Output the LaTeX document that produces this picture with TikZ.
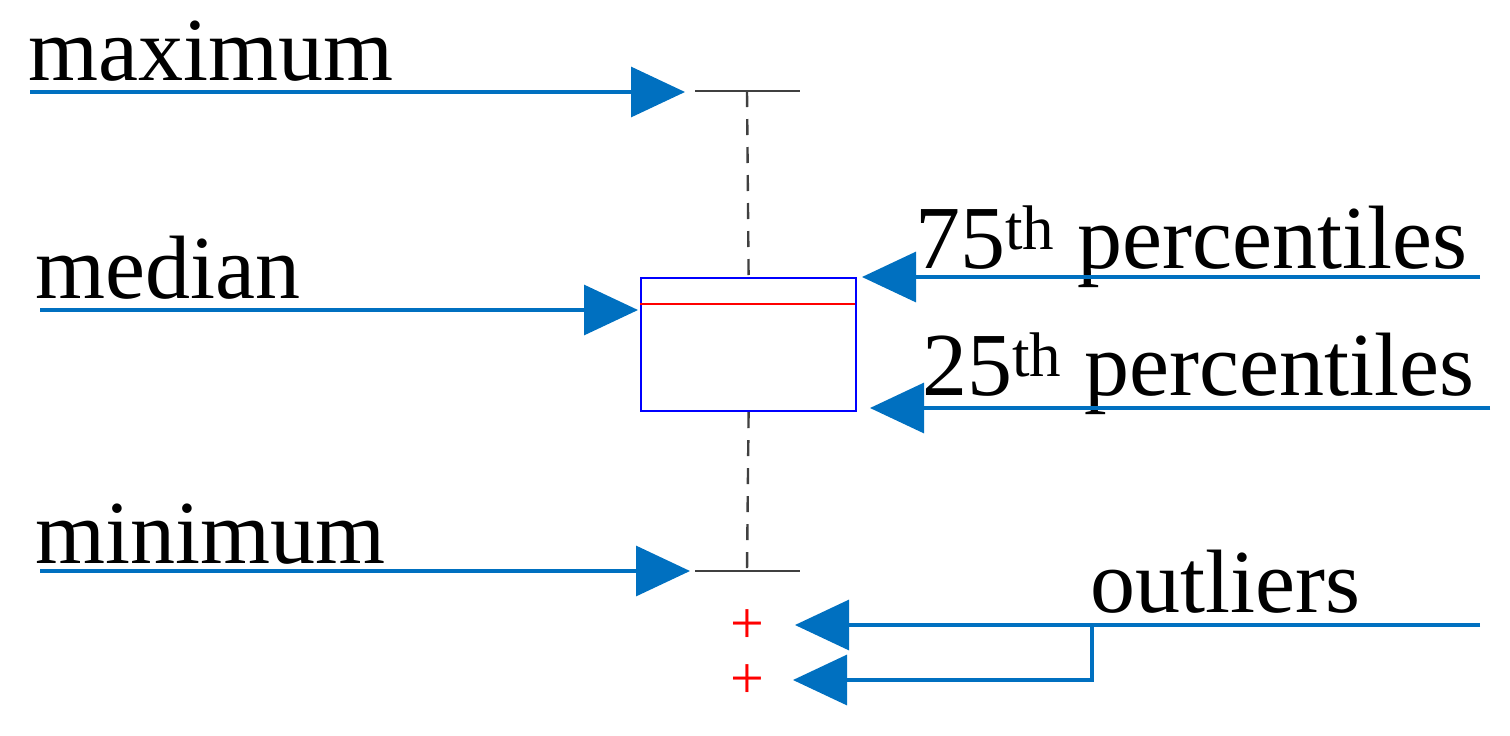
\documentclass[tikz,border=0pt]{standalone}
\usepackage{fontspec}
\setmainfont{Liberation Serif}
\usetikzlibrary{arrows.meta}
\definecolor{ab}{RGB}{0,112,192}
\begin{document}
\begin{tikzpicture}[x=0.5pt,y=-0.5pt,
  arr/.style={ab,line width=1.6pt,-{Triangle[length=27pt,width=25pt]}},
  lbl/.style={anchor=base west,inner sep=0,font=\fontsize{45}{47}\selectfont},
  wh/.style={black!75,line width=1.2pt}]
\useasboundingbox (0,0) rectangle (1510,735);
% box plot
\node[draw=blue,line width=1.1pt,minimum width=107.5pt,minimum height=66.5pt,inner sep=0,anchor=north west] (box) at (640,277) {};
\draw[red,line width=1.1pt] (640,304) -- (855,304);
\coordinate (mx) at (747,91); \coordinate (mn) at (747,571);
\draw[wh] (695,91) -- (800,91);
\draw[wh] (695,571) -- (800,571);
\draw[wh,dashed,dash pattern=on 8pt off 6pt] (mx) -- (box.north);
\draw[wh,dashed,dash pattern=on 8pt off 6pt] (box.south) -- (mn);
\node[red,font=\fontsize{30}{30}\selectfont,inner sep=0] (o1) at (747,627) {+};
\node[red,font=\fontsize{30}{30}\selectfont,inner sep=0] (o2) at (747,682) {+};
% labels
\node[lbl] (tmax) at (28,80) {maximum};
\node[lbl] (tmed) at (35,298) {median};
\node[lbl] (tmin) at (35,563) {minimum};
\node[lbl] (t75) at (915,268) {75\textsuperscript{th} percentiles};
\node[lbl] (t25) at (922,395) {25\textsuperscript{th} percentiles};
\node[lbl] (tout) at (1090,612) {outliers};
% coordinates
\coordinate (a1) at (30,92); \coordinate (b1) at (685,92);
\coordinate (a2) at (40,310); \coordinate (b2) at (638,310);
\coordinate (a3) at (40,571); \coordinate (b3) at (690,571);
\coordinate (a4) at (1480,277); \coordinate (b4) at (862,277);
\coordinate (a5) at (1490,408); \coordinate (b5) at (870,408);
\coordinate (a6) at (1480,625); \coordinate (b6) at (795,625);
\coordinate (j) at (1092,625); \coordinate (b7) at (793,680);
\draw[arr] (a1) -- (b1);
\draw[arr] (a2) -- (b2);
\draw[arr] (a3) -- (b3);
\draw[arr] (a4) -- (b4);
\draw[arr] (a5) -- (b5);
\draw[arr] (a6) -- (b6);
\draw[arr] (j) |- (b7);
\end{tikzpicture}
\end{document}
